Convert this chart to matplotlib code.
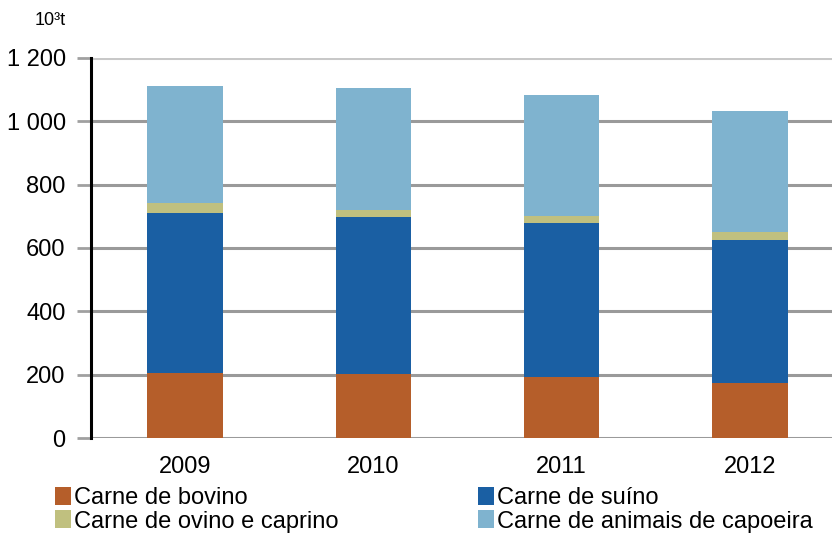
import matplotlib.pyplot as plt
import numpy as np

plt.rcParams['font.family'] = ['Liberation Sans', 'DejaVu Sans']

anos = ['2009', '2010', '2011', '2012']
bovino = [205, 202, 193, 174]
suino = [505, 496, 486, 451]
ovino = [32, 22, 22, 26]
capoeira = [370, 385, 382, 382]
series = ['Carne de bovino', 'Carne de suíno', 'Carne de ovino e caprino', 'Carne de animais de capoeira']
cores = ['#B55E2A', '#1A5FA3', '#C0C07F', '#7FB3CF']
yticks = [0, 200, 400, 600, 800, 1000, 1200]
ylabels = ['0', '200', '400', '600', '800', '1 000', '1 200']

fig = plt.figure(figsize=(8.32, 5.35), dpi=100)
ax = fig.add_axes([0.109, 0.181, 0.891, 0.711])

x = np.arange(len(anos))
base = np.zeros(len(anos))
handles = []
for vals, nome, cor in zip([bovino, suino, ovino, capoeira], series, cores):
    b = ax.bar(x, vals, 0.4, bottom=base, color=cor, label=nome, zorder=3)
    handles.append(b)
    base += np.array(vals)

ax.set_ylim(0, 1200)
ax.set_xlim(-0.5, 3.435)
ax.set_yticks(yticks)
ax.set_yticklabels(ylabels)
ax.set_xticks(x)
ax.set_xticklabels(anos)
for t in yticks:
    ax.axhline(t, color='#c8c8c8' if t == 1200 else '#9a9a9a', lw=2.2, zorder=1)

for s in ['top', 'right', 'bottom']:
    ax.spines[s].set_visible(False)
ax.spines['left'].set_linewidth(2.2)
ax.spines['left'].set_color('black')
ax.spines['left'].set_zorder(4)
ax.tick_params(axis='y', length=10, width=2, color='#a0a0a0', labelsize=17, pad=8)
ax.tick_params(axis='x', length=0, labelsize=17, pad=13)

fig.text(0.042, 0.962, '10³t', fontsize=13, va='center')

# column-major order so rows read bovino/suino, ovino/capoeira
ordem = [0, 2, 1, 3]
fig.legend(handles=[handles[i] for i in ordem], loc='lower left',
           bbox_to_anchor=(0.049, -0.022), ncol=2,
           frameon=False, fontsize=17, handlelength=0.7, handleheight=0.8,
           handletextpad=0.1, columnspacing=5.9, labelspacing=0.05, borderpad=0.1)

plt.savefig('out.png')
